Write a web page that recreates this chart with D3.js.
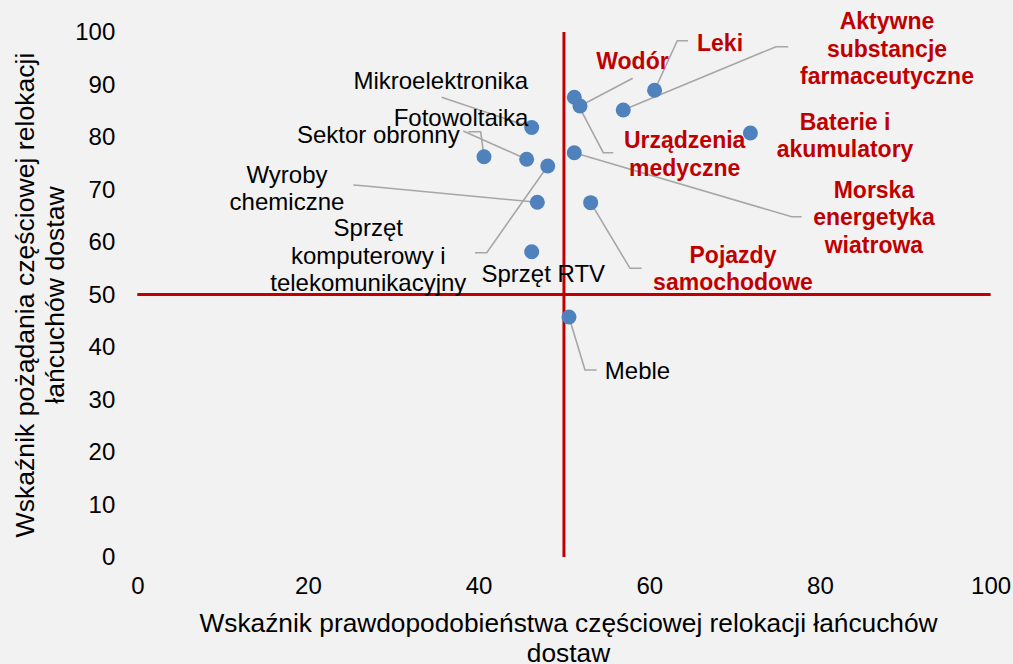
<!DOCTYPE html>
<html>
<head>
<meta charset="utf-8">
<script src="https://cdn.jsdelivr.net/npm/d3@7/dist/d3.min.js"></script>
<style>
  html, body { margin: 0; padding: 0; background: #f2f2f2; }
  svg { display: block; }
  text { font-family: "Liberation Sans", Arial, sans-serif; }
</style>
</head>
<body>
<script>
// ---- data ----
const names = ["Aktywne substancje farmaceutyczne", "Leki", "Wodór", "Urządzenia medyczne",
  "Baterie i akumulatory", "Morska energetyka wiatrowa", "Pojazdy samochodowe",
  "Mikroelektronika", "Fotowoltaika", "Sektor obronny", "Wyroby chemiczne",
  "Sprzęt komputerowy i telekomunikacyjny", "Sprzęt RTV", "Meble"];
const xValues = [56.95, 60.62, 51.88, 51.21, 71.85, 51.21, 53.13, 46.22, 45.63, 40.63, 46.88, 48.10, 46.22, 50.59];
const yValues = [85.14, 88.90, 85.90, 87.56, 80.75, 77.00, 67.50, 81.80, 75.75, 76.25, 67.56, 74.48, 58.15, 45.71];
const labelLines = [
  ["Aktywne", "substancje", "farmaceutyczne"], ["Leki"], ["Wodór"], ["Urządzenia", "medyczne"],
  ["Baterie i", "akumulatory"], ["Morska", "energetyka", "wiatrowa"], ["Pojazdy", "samochodowe"],
  ["Mikroelektronika"], ["Fotowoltaika"], ["Sektor obronny"], ["Wyroby", "chemiczne"],
  ["Sprzęt", "komputerowy i", "telekomunikacyjny"], ["Sprzęt RTV"], ["Meble"]];
const highlighted = [true, true, true, true, true, true, true, false, false, false, false, false, false, false];
// label block centres (in data units)
const labelX = [87.86, 68.29, 58.03, 64.15, 82.94, 86.33, 69.81, 35.57, 37.94, 28.24, 17.54, 27.07, 47.58, 58.62];
const labelY = [96.86, 97.96, 94.48, 76.80, 80.29, 64.69, 54.90, 90.72, 83.75, 80.38, 70.23, 57.47, 54.04, 35.49];
// leader line waypoints from label side towards the point (data units); empty = no leader
const leaders = [
  [[76.29, 97.2], [74.85, 97.2]],
  [[64.54, 98.34], [63.28, 98.34]],
  [[58.06, 91.18]],
  [[55.78, 77.01], [54.61, 77.01]],
  [],
  [[77.86, 64.82], [76.69, 64.82]],
  [[59.11, 54.99], [57.74, 54.99]],
  [[35.67, 87.56]],
  [[38.20, 81.14]],
  [[38.79, 81.01], [40.24, 81.01]],
  [[25.31, 70.86], [26.45, 70.72]],
  [[39.58, 57.96], [40.95, 57.96]],
  [],
  [[53.84, 35.62], [52.47, 35.62]]];
const xTicks = [0, 20, 40, 60, 80, 100];
const yTicks = [0, 10, 20, 30, 40, 50, 60, 70, 80, 90, 100];
const xTitle = ["Wskaźnik prawdopodobieństwa częściowej relokacji łańcuchów", "dostaw"];
const yTitle = ["Wskaźnik pożądania częściowej relokacji", "łańcuchów dostaw"];
const threshold = 50;

// ---- layout ----
const W = 1013, H = 664;
const mLeft = 137.3, mRight = 990.6, mTop = 32, mBottom = 557;
const x = d3.scaleLinear().domain([0, 100]).range([mLeft, mRight]);
const y = d3.scaleLinear().domain([0, 100]).range([mBottom, mTop]);

const svg = d3.select("body").append("svg").attr("width", W).attr("height", H);
svg.append("rect").attr("width", W).attr("height", H).attr("fill", "#f2f2f2");

// axes (labels only)
const xAxis = svg.append("g").attr("transform", `translate(0,${mBottom})`)
  .call(d3.axisBottom(x).tickValues(xTicks).tickSize(0).tickPadding(20));
const yAxis = svg.append("g").attr("transform", `translate(${mLeft},0)`)
  .call(d3.axisLeft(y).tickValues(yTicks).tickSize(0).tickPadding(22));
[xAxis, yAxis].forEach(g => {
  g.select(".domain").remove();
  g.selectAll("text").attr("font-size", 24).attr("fill", "#000")
    .attr("font-family", "Liberation Sans, Arial, sans-serif");
});

// threshold lines
svg.append("line").attr("x1", x(0)).attr("x2", x(100)).attr("y1", y(threshold)).attr("y2", y(threshold))
  .attr("stroke", "#c00000").attr("stroke-width", 3);
svg.append("line").attr("x1", x(threshold)).attr("x2", x(threshold)).attr("y1", y(0)).attr("y2", y(100))
  .attr("stroke", "#c00000").attr("stroke-width", 3);

// leader lines
const line = d3.line().x(d => x(d[0])).y(d => y(d[1]));
names.forEach((n, i) => {
  if (!leaders[i].length) return;
  const pts = leaders[i].concat([[xValues[i], yValues[i]]]);
  svg.append("path").attr("d", line(pts)).attr("fill", "none")
    .attr("stroke", "#a6a6a6").attr("stroke-width", 1.6);
});

// points
svg.append("g").selectAll("circle").data(names).join("circle")
  .attr("cx", (d, i) => x(xValues[i])).attr("cy", (d, i) => y(yValues[i]))
  .attr("r", 7.5).attr("fill", "#4f81bd");

// labels
const lh = 27.3;
names.forEach((n, i) => {
  const lines = labelLines[i];
  const cx = x(labelX[i]), cy = y(labelY[i]);
  const t = svg.append("text").attr("text-anchor", "middle")
    .attr("font-size", highlighted[i] ? 23 : 24)
    .attr("font-weight", highlighted[i] ? "bold" : "normal")
    .attr("fill", highlighted[i] ? "#c00000" : "#000");
  lines.forEach((l, k) => {
    t.append("tspan").attr("x", cx)
      .attr("y", cy + (k - (lines.length - 1) / 2) * lh).attr("dy", "0.35em").text(l);
  });
});

// axis titles
const xt = svg.append("text").attr("text-anchor", "middle").attr("font-size", 26.3).attr("fill", "#000");
xTitle.forEach((l, k) => xt.append("tspan").attr("x", 568.5).attr("y", 632 + k * 30).text(l));
const yt = svg.append("text").attr("text-anchor", "middle").attr("font-size", 26.6).attr("fill", "#000")
  .attr("transform", "translate(33.5,295) rotate(-90)");
yTitle.forEach((l, k) => yt.append("tspan").attr("x", 0).attr("y", k * 30.5).text(l));
</script>
</body>
</html>
